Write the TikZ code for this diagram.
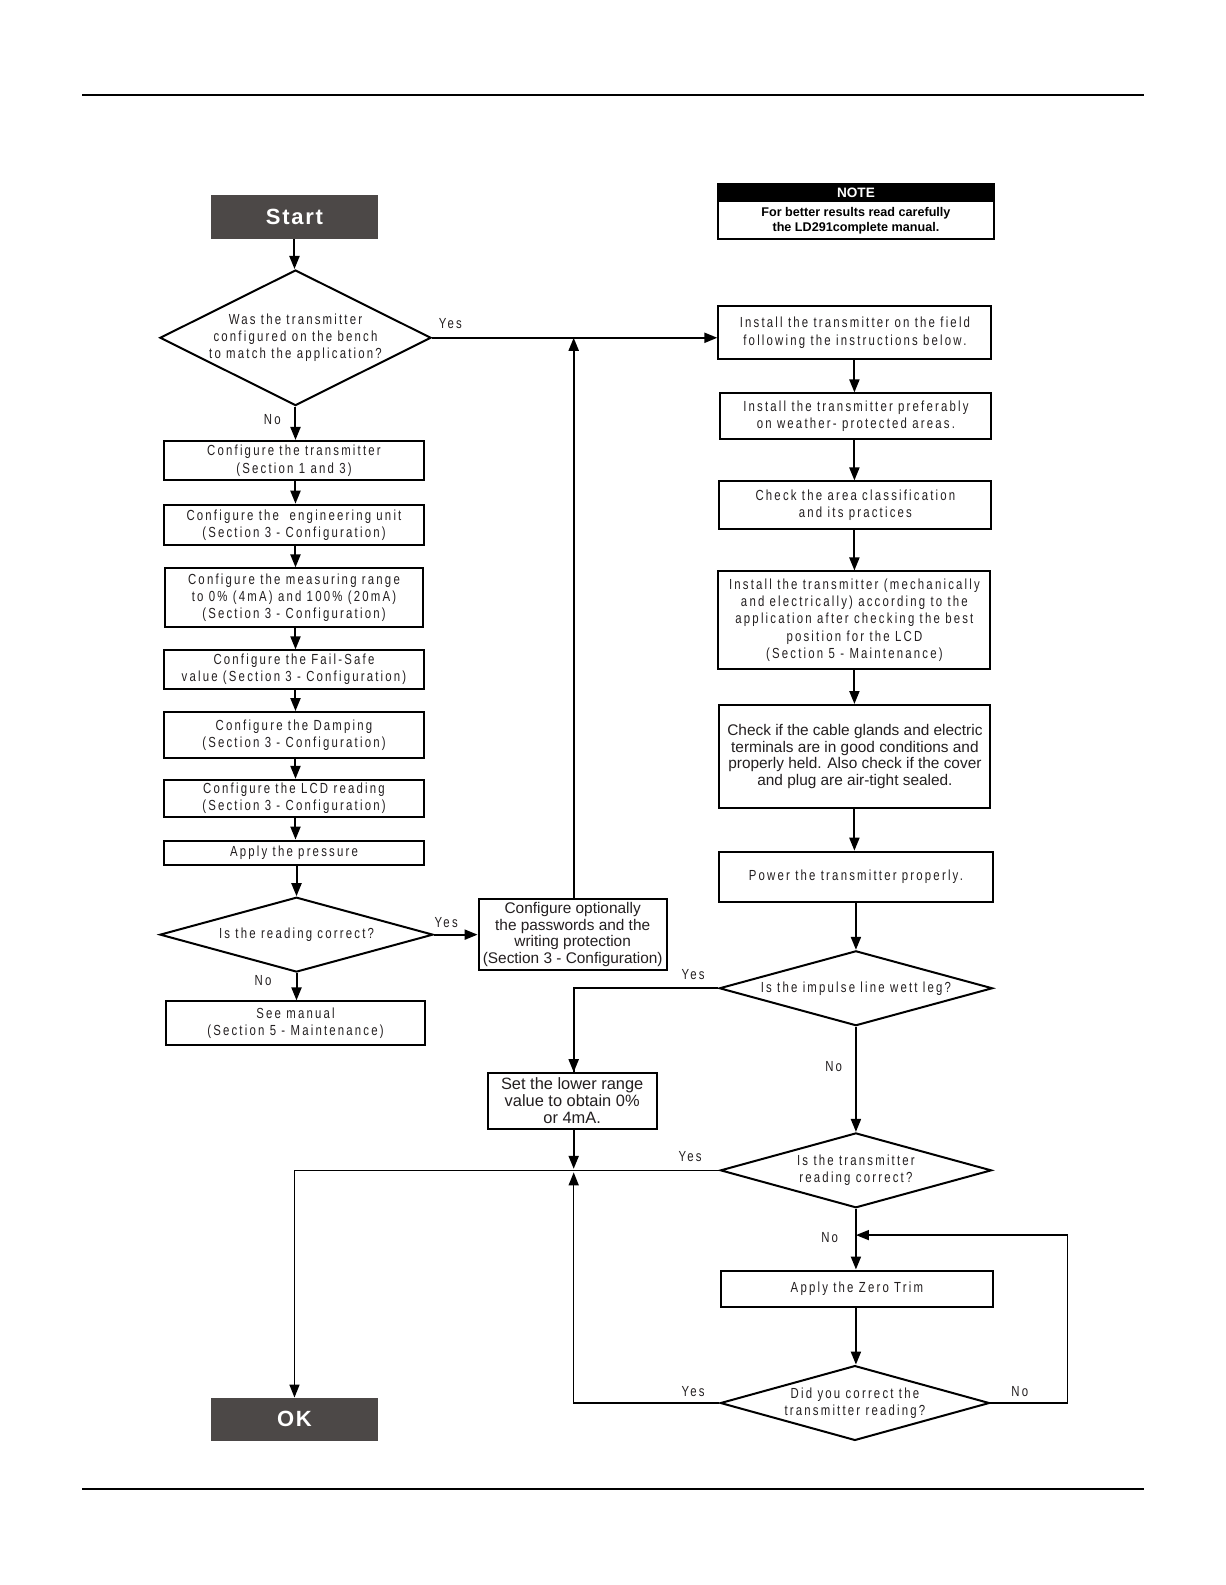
\documentclass[tikz,border=0pt]{standalone}
\usepackage{fontspec}
\setmainfont{Liberation Sans}
\newfontfamily\cond[FakeStretch=0.78,LetterSpace=15]{Liberation Sans}
\newfontfamily\arl{Liberation Sans}
\newfontfamily\arlsp[LetterSpace=8]{Liberation Sans}
\usetikzlibrary{shapes.geometric,arrows.meta,calc}
\definecolor{txt}{RGB}{35,31,32}
\definecolor{termfill}{RGB}{76,72,71}
\def\UU{0.5057pt}
\tikzset{
  sz/.style 2 args={minimum width=#1*\UU,minimum height=#2*\UU},
  cfont/.style={font=\cond\fontsize{7.3}{8.6}\selectfont},
  cbox/.style={draw,rectangle,line width=1pt,inner sep=0pt,align=center,text=txt,cfont},
  abox/.style={draw,rectangle,line width=1pt,inner sep=0pt,align=center,text=txt,font=\arl\fontsize{7.7}{8.3}\selectfont},
  term/.style={rectangle,fill=termfill,draw=termfill,inner sep=0pt,text=white,font=\arlsp\bfseries\fontsize{11}{12}\selectfont},
  dia/.style={draw,diamond,inner sep=0pt,line width=1pt},
  dtext/.style={align=center,inner sep=0pt,text=txt,cfont},
  lbl/.style={inner sep=0pt,text=txt,cfont},
  tip/.tip={Triangle[length=6.5pt,width=5pt]},
  arr/.style={line width=1pt,-tip},
  ln/.style={line width=1pt},
  thin/.style={line width=0.75pt}
}
\begin{document}
\begin{tikzpicture}[x=0.5057pt,y=-0.5057pt]
\useasboundingbox (-1.1,1.1) rectangle (1210.1,1567.9);
\fill[white] (-1.1,1.1) rectangle (1210.1,1567.9);
% header and footer rules
\draw[ln] (80,95) -- (1130,95);
\draw[ln] (80,1473) -- (1130,1473);

% NOTE box
\node[draw,rectangle,line width=1pt,sz={272}{54},inner sep=0pt] (note) at (845,210) {};
\node[rectangle,fill=black,sz={272}{18},inner sep=0pt,text=white,font=\arl\bfseries\fontsize{6.8}{7}\selectfont] (notehead) at (845,192) {NOTE};
\node[align=center,inner sep=0pt,text=black,font=\arl\bfseries\fontsize{6.3}{7.2}\selectfont] (notetext) at (845,219.5) {For better results read carefully\\the LD291complete manual.};

% left column
\node[term,sz={164}{43}] (start) at (290,215.5) {Start};
\node[dia,sz={268}{134}] (d1) at (291,335) {};
\node[dtext] at (d1) {Was the transmitter\\configured on the bench\\to match the application?};
\node[cbox,sz={257}{39}] (b1) at (289.5,456.5) {Configure the transmitter\\(Section 1 and 3)};
\node[cbox,sz={257}{40}] (b2) at (289.5,520) {Configure the~ engineering unit\\(Section 3 - Configuration)};
\node[cbox,sz={255}{58}] (b3) at (289.5,592) {Configure the measuring range\\to 0\% (4mA) and 100\% (20mA)\\(Section 3 - Configuration)};
\node[cbox,sz={257}{38}] (b4) at (289.5,663) {Configure the Fail-Safe\\value (Section 3 - Configuration)};
\node[cbox,sz={257}{45}] (b5) at (289.5,727.5) {Configure the Damping\\(Section 3 - Configuration)};
\node[cbox,sz={257}{37}] (b6) at (289.5,790.5) {Configure the LCD reading\\(Section 3 - Configuration)};
\node[cbox,sz={257}{24}] (b7) at (289.5,844) {Apply the pressure};
\node[dia,sz={270}{74}] (d2) at (292,925) {};
\node[dtext] at (d2) {Is the reading correct?};
\node[cbox,sz={256}{43}] (sm) at (291,1012.5) {See manual\\(Section 5 - Maintenance)};
\node[abox,sz={186}{70}] (opt) at (565,925) {Configure optionally\\the passwords and the\\writing protection\\(Section 3 - Configuration)};
\node[term,sz={164}{42}] (ok) at (290,1404) {OK};

% right column
\node[cbox,sz={270}{52}] (r1) at (844,330) {Install the transmitter on the field\\following the instructions below.};
\node[cbox,sz={268}{45}] (r2) at (845,412.5) {Install the transmitter preferably\\on weather- protected areas.};
\node[cbox,sz={269}{47}] (r3) at (844.5,500.5) {Check the area classification\\and its practices};
\node[cbox,sz={269}{96}] (r4) at (843.5,614) {Install the transmitter (mechanically\\and electrically) according to the\\application after checking the best\\position for the LCD\\(Section 5 - Maintenance)};
\node[abox,sz={268}{102}] (r5) at (844,749) {Check if the cable glands and electric\\terminals are in good conditions and\\properly held. Also check if the cover\\and plug are air-tight sealed.};
\node[cbox,sz={270}{50}] (r6) at (845,868) {Power the transmitter properly.};
\node[dia,sz={270}{74}] (d3) at (845,978) {};
\node[dtext] at (d3) {Is the impulse line wett leg?};
\node[abox,font=\arl\fontsize{8.2}{8.5}\selectfont,sz={167}{55}] (set) at (564.5,1089.5) {Set the lower range\\value to obtain 0\%\\or 4mA.};
\node[dia,sz={268}{74}] (d4) at (845,1158) {};
\node[dtext] at (d4) {Is the transmitter\\reading correct?};
\node[cbox,sz={268}{36}] (zt) at (846,1275) {Apply the Zero Trim};
\node[dia,sz={266}{74}] (d5) at (844,1388) {};
\node[dtext] at (d5) {Did you correct the\\transmitter reading?};

\coordinate (jd) at (566,1156.5);
\coordinate (ju) at (566,1160);
\coordinate (lp) at (1054,1222);

% connectors left
\draw[arr] (start.south) -- (start.south |- d1.north);
\draw[arr] (d1.south) -- (d1.south |- b1.north);
\draw[arr] (b1.south -| d1.south) -- (d1.south |- b2.north);
\draw[arr] (b2.south -| d1.south) -- (d1.south |- b3.north);
\draw[arr] (b3.south -| d1.south) -- (d1.south |- b4.north);
\draw[arr] (b4.south -| d1.south) -- (d1.south |- b5.north);
\draw[arr] (b5.south -| d1.south) -- (d1.south |- b6.north);
\draw[arr] (b6.south -| d1.south) -- (d1.south |- b7.north);
\draw[arr] (b7.south -| d2.north) -- (d2.north);
\draw[arr] (d2.south) -- (d2.south |- sm.north);
\draw[arr] (d2.east) -- (opt.west);
\draw[arr] (opt.north -| ju) -- (ju |- d1.east);
\draw[arr] (d1.east) -- (d1.east -| r1.west);

% connectors right
\draw[arr] (r1.south -| r4.south) -- (r4.south |- r2.north);
\draw[arr] (r2.south -| r4.south) -- (r4.south |- r3.north);
\draw[arr] (r3.south -| r4.south) -- (r4.south |- r4.north);
\draw[arr] (r4.south) -- (r4.south |- r5.north);
\draw[arr] (r5.south -| r4.south) -- (r4.south |- r6.north);
\draw[arr] (r6.south -| d3.north) -- (d3.north);
\draw[ln] (d3.west) -| (set.north -| jd);
\draw[arr] (d3.west -| jd) -- (set.north -| jd);
\draw[arr] (d3.south) -- (d4.north);
\draw[arr] (set.south -| jd) -- (jd);
\draw[thin,-tip] (d4.west) -| (ok.north);
\draw[arr] (d4.south) -- (d4.south |- zt.north);
\draw[arr] (zt.south -| d4.south) -- (d4.south |- d5.north);
\draw[thin,-tip] (d5.west) -| (ju);
\draw[thin,-tip] (d5.east) -| (lp) -- (lp -| d4.south);

% labels
\node[lbl] (l1) at (444,321) {Yes};
\node[lbl] (l2) at (268,416) {No};
\node[lbl] (l3) at (440,913) {Yes};
\node[lbl] (l4) at (259,970) {No};
\node[lbl] (l5) at (684,964) {Yes};
\node[lbl] (l6) at (823,1055) {No};
\node[lbl] (l7) at (681,1144) {Yes};
\node[lbl] (l8) at (819,1224) {No};
\node[lbl] (l9) at (684,1377) {Yes};
\node[lbl] (l10) at (1007,1377) {No};
\end{tikzpicture}
\end{document}
